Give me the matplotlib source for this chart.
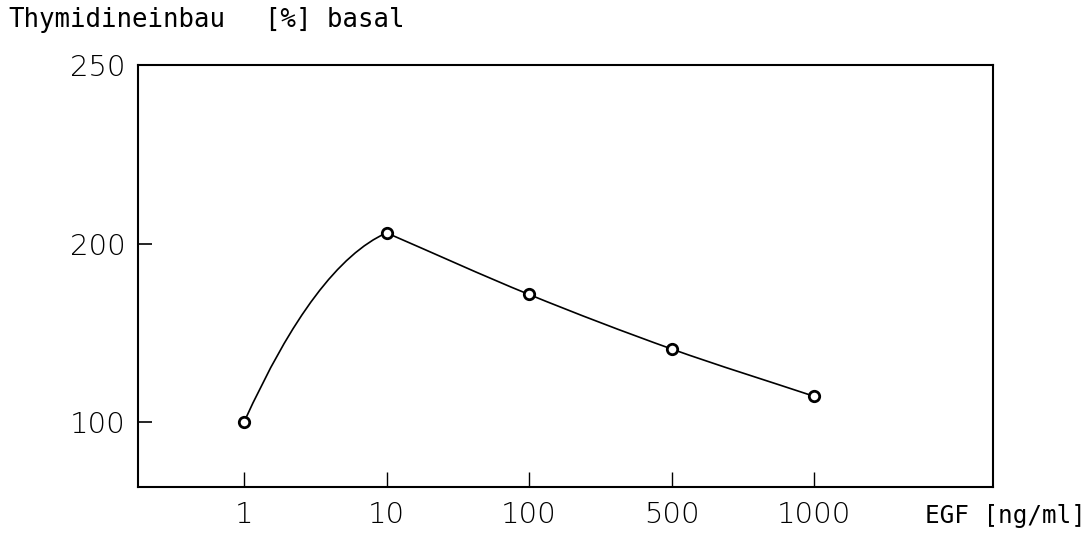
import matplotlib
matplotlib.use("Agg")
import matplotlib.pyplot as plt
from matplotlib.path import Path
from matplotlib.patches import PathPatch

# ----------------------------------------------------
# Data
# ----------------------------------------------------
egf_labels = ["1", "10", "100", "500", "1000"]
thymidine = [100, 206, 171.5, 141, 114.5]

ytick_values = [100, 200, 300]
ytick_labels = ["100", "200", "250"]

x = list(range(len(egf_labels)))

# ----------------------------------------------------
# Figure
# ----------------------------------------------------
fig = plt.figure(figsize=(10.9, 5.41), dpi=100)
ax = fig.add_axes([0.1266, 0.0998, 0.7844, 0.7802])

ax.set_xlim(-0.744, 5.256)
ax.set_ylim(63.7, 300)

# smooth curve: quadratic piece up to the peak, Catmull-Rom after it
peak = thymidine.index(max(thymidine))
verts, codes = [], []

# rising part (one quadratic Bezier), end tangent = central difference
m_peak = (thymidine[peak + 1] - thymidine[peak - 1]) / 2.0
ctrl = ((x[0] + x[peak]) / 2.0, thymidine[peak] - m_peak * (x[peak] - x[0]) / 2.0)
verts += [(x[0], thymidine[0]), ctrl, (x[peak], thymidine[peak])]
codes += [Path.MOVETO, Path.CURVE3, Path.CURVE3]

# falling part (cubic Beziers, Catmull-Rom tangents)
px = x[peak:]
py = thymidine[peak:]
n = len(px)
tang = []
for i in range(n):
    if i == 0:
        tang.append((px[1] - px[0], py[1] - py[0]))
    elif i == n - 1:
        tang.append((px[-1] - px[-2], py[-1] - py[-2]))
    else:
        tang.append(((px[i + 1] - px[i - 1]) / 2.0, (py[i + 1] - py[i - 1]) / 2.0))
for i in range(n - 1):
    c1 = (px[i] + tang[i][0] / 3.0, py[i] + tang[i][1] / 3.0)
    c2 = (px[i + 1] - tang[i + 1][0] / 3.0, py[i + 1] - tang[i + 1][1] / 3.0)
    verts += [c1, c2, (px[i + 1], py[i + 1])]
    codes += [Path.CURVE4, Path.CURVE4, Path.CURVE4]

ax.add_patch(PathPatch(Path(verts, codes), fill=False, lw=1.2, ec="black"))
ax.plot(x, thymidine, "o", ms=7.5, mfc="white", mec="black", mew=2.0, zorder=3)

# ----------------------------------------------------
# Axes styling
# ----------------------------------------------------
for s in ax.spines.values():
    s.set_linewidth(1.5)

tick_font = dict(family="DejaVu Sans", size=21, weight="light")

ax.set_xticks(x)
ax.set_xticklabels(egf_labels, fontdict=tick_font)
ax.set_yticks(ytick_values)
ax.set_yticklabels(ytick_labels, fontdict=tick_font)

ax.tick_params(axis="x", direction="in", length=11, width=1.0, pad=10)
ax.tick_params(axis="y", direction="in", length=10, width=1.2, pad=9)
ax.yaxis.get_major_ticks()[-1].tick1line.set_visible(False)

# ----------------------------------------------------
# Texts
# ----------------------------------------------------
mono = dict(family="DejaVu Sans Mono", size=18.5)
fig.text(8 / 1090, 1 - 20 / 541, "Thymidineinbau", va="center", ha="left", **mono)
fig.text(265 / 1090, 1 - 20 / 541, "[%] basal", va="center", ha="left", **mono)
fig.text(1086 / 1090, 1 - 516 / 541, "EGF [ng/ml]", va="center", ha="right",
         family="DejaVu Sans Mono", size=17.5)

fig.savefig("out.png", dpi=100)
